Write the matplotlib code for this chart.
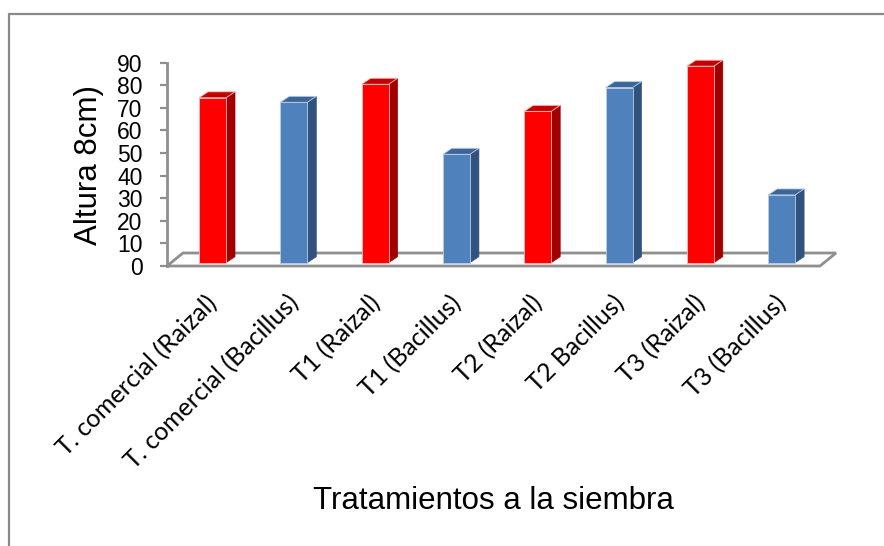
import matplotlib.pyplot as plt
from matplotlib.patches import Polygon, Rectangle
from matplotlib.transforms import ScaledTranslation

categories = ['T. comercial (Raizal)', 'T. comercial (Bacillus)', 'T1 (Raizal)', 'T1 (Bacillus)',
              'T2 (Raizal)', 'T2 Bacillus)', 'T3 (Raizal)', 'T3 (Bacillus)']
values = [73, 71, 79, 48, 67, 77.5, 87, 30]
series = ['Raizal', 'Bacillus', 'Raizal', 'Bacillus', 'Raizal', 'Bacillus', 'Raizal', 'Bacillus']
y_ticks = [0, 10, 20, 30, 40, 50, 60, 70, 80, 90]

# front / side / top colours for each series
colors = {
    'Raizal': ('#ff0000', '#a00000', '#c40000', '#ffb8b8'),
    'Bacillus': ('#4f81bd', '#31527c', '#3c659a', '#b9cce4'),
}

W, H = 884, 546
fig = plt.figure(figsize=(W / 100, H / 100), dpi=100)

# chart border (cut off at right and bottom like the original)
fig.patches.append(Rectangle((8.5 / W, -0.2), 1.2, 0.2 + (H - 13.5) / H, transform=fig.transFigure,
                             fill=False, edgecolor='#8a8a8a', lw=1.6))

x0_px, x1_px = 167, 820
y0_px, y90_px = 266, 62.7
ax = fig.add_axes([x0_px / W, (H - y0_px) / H, (x1_px - x0_px) / W, (y0_px - y90_px) / H])
step = 81.3
first = 212.5
xmin = (x0_px - first) / step
xmax = (x1_px - first) / step
ax.set_xlim(xmin, xmax)
ax.set_ylim(0, 90)

px_x = 1 / step
px_y = 90 / (y0_px - y90_px)

# floor
fdx, fdy = 16 * px_x, 13 * px_y
floor = Polygon([(xmin, 0), (xmax, 0), (xmax + fdx, fdy), (xmin + fdx, fdy)], closed=True,
                facecolor='white', edgecolor='#8f8f8f', lw=2, clip_on=False, zorder=1)
ax.add_patch(floor)

# 3d-looking columns
bw = 27 * px_x
ddx, ddy = 9 * px_x, 6 * px_y
base = 3.3 * px_y
for i, (v, s) in enumerate(zip(values, series)):
    front, side, top, edge = colors[s]
    left = i - bw / 2
    right = i + bw / 2
    y_top = base + v
    ax.add_patch(Polygon([(right, base), (right + ddx, base + ddy), (right + ddx, y_top + ddy), (right, y_top)],
                         closed=True, facecolor=side, edgecolor=side, lw=0.5, clip_on=False, zorder=3))
    ax.add_patch(Polygon([(left, y_top), (right, y_top), (right + ddx, y_top + ddy), (left + ddx, y_top + ddy)],
                         closed=True, facecolor=top, edgecolor=edge, lw=0.6, clip_on=False, zorder=3))
    ax.bar(i, v, width=bw, bottom=base, color=front, edgecolor=edge, linewidth=0.6, zorder=4, clip_on=False)

for sp in ['top', 'right', 'bottom']:
    ax.spines[sp].set_visible(False)
ax.spines['left'].set_color('#8f8f8f')
ax.spines['left'].set_linewidth(2)

ax.set_yticks(y_ticks)
ax.set_yticklabels([str(t) for t in y_ticks], fontsize=16.5, family='Liberation Sans')
ax.tick_params(axis='y', direction='out', length=4.7, width=1.6, color='#8f8f8f', pad=13)

ax.set_xticks(range(len(categories)))
ax.set_xticklabels(categories, rotation=45, ha='right', va='top', rotation_mode='anchor',
                   fontsize=18, family='Lato')
ax.tick_params(axis='x', length=0, pad=18)
shift = ScaledTranslation(-0.07, 0, fig.dpi_scale_trans)
for lbl in ax.get_xticklabels():
    lbl.set_transform(lbl.get_transform() + shift)

fig.text(88.5 / W, (H - 165) / H, 'Altura 8cm)', rotation=90, ha='center', va='center',
         fontsize=22.5, family='Liberation Sans')
fig.text(493.5 / W, (H - 509) / H, 'Tratamientos a la siembra', ha='center', va='baseline',
         fontsize=22.5, family='Liberation Sans')

fig.savefig('out.png', dpi=100)
